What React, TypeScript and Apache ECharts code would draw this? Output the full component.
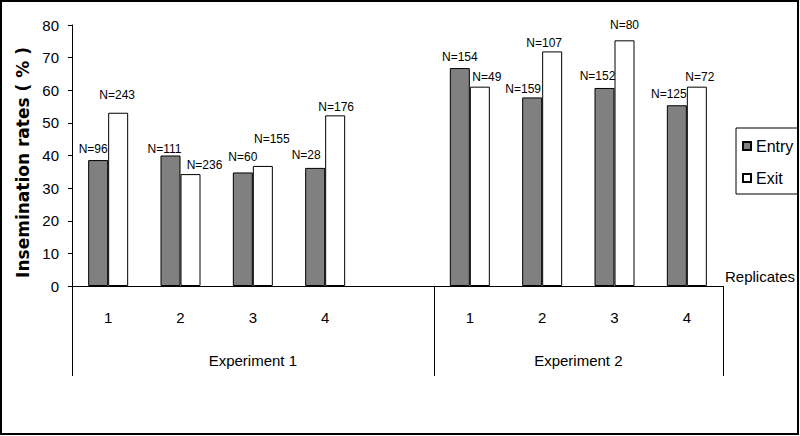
import React, { useEffect, useRef } from 'react';
import * as echarts from 'echarts';

const categories = ['1', '2', '3', '4', '', '1', '2', '3', '4'];
const entryRates: (number | null)[] = [38.6, 40.0, 34.8, 36.2, null, 66.8, 57.8, 60.7, 55.4];
const exitRates: (number | null)[] = [53.1, 34.3, 36.8, 52.3, null, 61.1, 71.9, 75.3, 61.1];
const entryN = ['N=96', 'N=111', 'N=60', 'N=28', '', 'N=154', 'N=159', 'N=152', 'N=125'];
const exitN = ['N=243', 'N=236', 'N=155', 'N=176', '', 'N=49', 'N=107', 'N=80', 'N=72'];
const groups = [
  { name: 'Experiment 1', from: 0, to: 4 },
  { name: 'Experiment 2', from: 5, to: 8 },
];
const seriesNames = ['Entry', 'Exit'];
const yMin = 0;
const yMax = 80;
const yInterval = 10;

// label nudges (pixels) to mimic the original label placement
const entryLabelShift = [[-5, 0], [-6, 4], [0, -4], [-9, -2], [0, 0], [0, 0], [-9, 3], [-7, -1], [-8, 0]];
const exitLabelShift = [[-1, -7], [14, 2], [9, -16], [1, 3], [0, 0], [7, 1], [-8, 3], [0, -4], [3, 1]];

const FONT = "'Liberation Sans', Arial, sans-serif";

export default function App() {
  const ref = useRef<HTMLDivElement>(null);
  useEffect(() => {
    if (!ref.current) return;
    const chart = echarts.init(ref.current, null, { renderer: 'svg' });
    const mk = (vals: (number | null)[], shifts: number[][]) =>
      vals.map((v, i) => ({
        value: v === null ? '-' : v,
        label: { offset: shifts[i] },
      }));
    const option: any = {
      animation: false,
      backgroundColor: '#fff',
      textStyle: { fontFamily: FONT },
      grid: { left: 72, right: 77, top: 25, bottom: 150 },
      legend: {
        orient: 'vertical',
        left: 736,
        top: 128,
        itemWidth: 8,
        itemHeight: 8,
        itemGap: 16,
        padding: [10, 5, 8, 6],
        borderColor: '#000',
        borderWidth: 1,
        icon: 'rect',
        textStyle: { fontSize: 16, color: '#000', fontFamily: FONT },
        data: seriesNames,
      },
      xAxis: {
        type: 'category',
        data: categories,
        name: 'Replicates',
        nameLocation: 'end',
        nameGap: 2,
        nameTextStyle: {
          fontSize: 15,
          color: '#000',
          align: 'left',
          verticalAlign: 'bottom',
          padding: [0, 0, 2, 0],
          fontFamily: FONT,
        },
        axisLine: { lineStyle: { color: '#000', width: 1 } },
        axisTick: { show: false },
        axisLabel: { fontSize: 15, color: '#000', margin: 24, fontFamily: FONT },
      },
      yAxis: {
        type: 'value',
        min: yMin,
        max: yMax,
        interval: yInterval,
        name: 'Insemination rates ( % )',
        nameLocation: 'middle',
        nameRotate: 90,
        nameGap: 34,
        nameTextStyle: {
          fontFamily: "'DejaVu Sans', sans-serif",
          fontWeight: 'bold',
          fontSize: 17,
          color: '#000',
          padding: [0, 14, 0, 0],
        },
        axisLine: { show: true, lineStyle: { color: '#000', width: 1 } },
        axisTick: { show: true, length: 4, lineStyle: { color: '#000' } },
        axisLabel: { fontSize: 15, color: '#000', margin: 13, fontFamily: FONT },
        splitLine: { show: false },
      },
      series: [
        {
          name: seriesNames[0],
          type: 'bar',
          barWidth: 20,
          barGap: '0%',
          data: mk(entryRates, entryLabelShift),
          itemStyle: { color: '#808080', borderColor: '#000', borderWidth: 1 },
          label: {
            show: true,
            position: 'top',
            distance: 5,
            fontSize: 12,
            color: '#000',
            fontFamily: FONT,
            formatter: (p: any) => entryN[p.dataIndex],
          },
        },
        {
          name: seriesNames[1],
          type: 'bar',
          barWidth: 20,
          barGap: '0%',
          data: mk(exitRates, exitLabelShift),
          itemStyle: { color: '#ffffff', borderColor: '#000', borderWidth: 1 },
          label: {
            show: true,
            position: 'top',
            distance: 5,
            fontSize: 12,
            color: '#000',
            fontFamily: FONT,
            formatter: (p: any) => exitN[p.dataIndex],
          },
        },
      ],
    };
    chart.setOption(option);

    const cx = (i: number) => chart.convertToPixel({ xAxisIndex: 0 }, i) as number;
    const bw = cx(1) - cx(0);
    const bound = (i: number) => cx(i) - bw / 2;
    const y0 = chart.convertToPixel({ yAxisIndex: 0 }, 0) as number;
    const boxBottom = y0 + 90;
    const lineXs = [bound(groups[0].from), bound(groups[1].from), bound(groups[1].to) + bw];
    const graphics: any[] = lineXs.map((x) => ({
      type: 'line',
      shape: { x1: Math.round(x) + 0.5, y1: y0, x2: Math.round(x) + 0.5, y2: boxBottom },
      style: { stroke: '#000', lineWidth: 1 },
      silent: true,
    }));
    groups.forEach((g) => {
      const mid = (bound(g.from) + bound(g.to) + bw) / 2;
      graphics.push({
        type: 'text',
        x: mid,
        y: y0 + 74,
        style: {
          text: g.name,
          fontSize: 15,
          fontFamily: FONT,
          fill: '#000',
          align: 'center',
          verticalAlign: 'middle',
        },
        silent: true,
      });
    });
    graphics.push({
      type: 'rect',
      shape: { x: 1, y: 1, width: 797, height: 433 },
      style: { fill: 'none', stroke: '#000', lineWidth: 2 },
      silent: true,
    });
    chart.setOption({ graphic: graphics });

    return () => chart.dispose();
  }, []);
  return (
    <div
      ref={ref}
      style={{ position: 'fixed', left: 0, top: 0, width: 800, height: 436, background: '#fff' }}
    />
  );
}
